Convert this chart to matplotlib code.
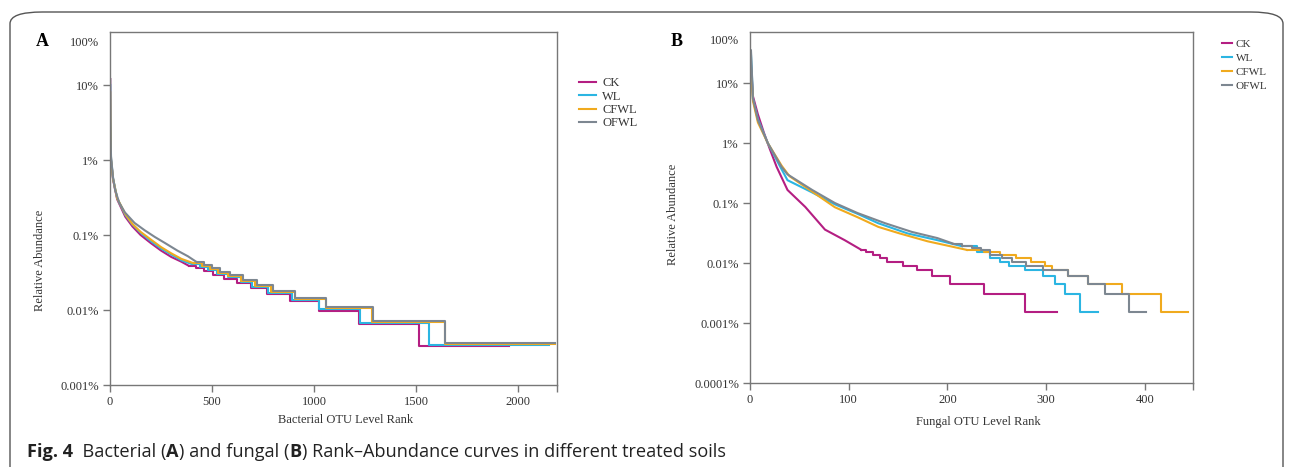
import numpy as np
import matplotlib.pyplot as plt
from matplotlib.patches import FancyBboxPatch

W, H = 1293, 467

groups = ["CK", "WL", "CFWL", "OFWL"]
colors = ["#B41E82", "#2BB5E2", "#F0AA1E", "#7D8791"]

# bacterial rank-abundance (rank, relative abundance in %)
ck_a_rank = [1, 2, 5, 15, 35, 75, 110, 150, 200, 250, 300, 350, 385, 420, 460, 505, 560, 620, 690, 770, 882, 1025, 1221, 1515, 1956]
ck_a_pct = [12, 3.0, 1.0, 0.55, 0.30, 0.175, 0.13, 0.10, 0.078, 0.062, 0.051, 0.044, 0.039, 0.036, 0.0327, 0.0294, 0.0261, 0.0229, 0.0196, 0.0163, 0.0131, 0.0098, 0.0065, 0.0033, 0.0033]
wl_a_rank = [1, 2, 5, 15, 35, 75, 110, 150, 200, 250, 300, 350, 400, 440, 480, 525, 580, 640, 695, 775, 890, 1025, 1225, 1564, 2150]
wl_a_pct = [10, 3.2, 1.05, 0.57, 0.31, 0.185, 0.138, 0.107, 0.083, 0.066, 0.055, 0.046, 0.041, 0.0374, 0.034, 0.0306, 0.0272, 0.0238, 0.0204, 0.017, 0.0136, 0.0102, 0.0068, 0.0034, 0.0034]
cfwl_a_rank = [1, 2, 5, 15, 35, 75, 110, 150, 200, 250, 300, 350, 410, 450, 490, 530, 580, 640, 710, 790, 905, 1059, 1284, 1642, 2180]
cfwl_a_pct = [8, 2.8, 1.0, 0.56, 0.31, 0.19, 0.14, 0.11, 0.087, 0.069, 0.057, 0.048, 0.042, 0.0385, 0.035, 0.0315, 0.028, 0.0245, 0.021, 0.0175, 0.014, 0.0105, 0.007, 0.0035, 0.0035]
ofwl_a_rank = [1, 2, 5, 15, 25, 45, 73, 120, 171, 220, 270, 330, 382, 425, 460, 500, 540, 590, 650, 720, 799, 907, 1059, 1289, 1642, 2180]
ofwl_a_pct = [12, 3.5, 1.1, 0.58, 0.40, 0.27, 0.20, 0.145, 0.115, 0.094, 0.078, 0.062, 0.052, 0.0435, 0.040, 0.036, 0.0325, 0.029, 0.0253, 0.0217, 0.018, 0.0145, 0.0108, 0.0072, 0.0036, 0.0036]
knee_a = [385, 400, 410, 425]

# fungal rank-abundance
ck_b_rank = [1, 3, 8, 14, 20, 27, 38, 56, 76, 96, 113, 118, 125, 132, 139, 155, 169, 184, 203, 237, 279, 311]
ck_b_pct = [20, 6, 3.0, 1.5, 0.8, 0.4, 0.165, 0.086, 0.036, 0.024, 0.0165, 0.015, 0.0135, 0.012, 0.0105, 0.009, 0.0075, 0.006, 0.0045, 0.003, 0.0015, 0.0015]
wl_b_rank = [1, 3, 8, 18, 30, 38, 63, 86, 109, 130, 160, 190, 215, 230, 243, 253, 263, 279, 297, 309, 319, 334, 353]
wl_b_pct = [30, 5.5, 2.5, 1.0, 0.42, 0.24, 0.15, 0.095, 0.066, 0.046, 0.031, 0.024, 0.019, 0.0150, 0.012, 0.0105, 0.009, 0.0075, 0.006, 0.0045, 0.003, 0.0015, 0.0015]
cfwl_b_rank = [1, 3, 8, 18, 32, 40, 63, 86, 109, 130, 152, 180, 200, 220, 237, 253, 270, 285, 299, 306, 322, 343, 377, 417, 444]
cfwl_b_pct = [18, 5.0, 2.2, 1.0, 0.42, 0.28, 0.155, 0.085, 0.058, 0.040, 0.031, 0.023, 0.0195, 0.0165, 0.0150, 0.0135, 0.012, 0.0105, 0.009, 0.0075, 0.006, 0.0045, 0.003, 0.0015, 0.0015]
ofwl_b_rank = [1, 3, 8, 18, 32, 38, 63, 86, 109, 137, 164, 190, 206, 215, 225, 234, 243, 255, 266, 280, 297, 322, 343, 360, 384, 401]
ofwl_b_pct = [35, 5.5, 2.4, 1.0, 0.40, 0.30, 0.165, 0.10, 0.068, 0.046, 0.033, 0.026, 0.021, 0.0195, 0.018, 0.0165, 0.0135, 0.012, 0.0105, 0.009, 0.0075, 0.006, 0.0045, 0.003, 0.0015, 0.0015]
knee_b = [113, 215, 220, 206]

y_ticks = [[0.001, 0.01, 0.1, 1, 10], [0.0001, 0.001, 0.01, 0.1, 1, 10]]
y_labels = [["0.001%", "0.01%", "0.1%", "1%", "10%"], ["0.0001%", "0.001%", "0.01%", "0.1%", "1%", "10%"]]
x_ticks = [[0, 500, 1000, 1500, 2000], [0, 100, 200, 300, 400]]

plt.rcParams['font.family'] = ['Liberation Serif', 'DejaVu Serif']

fig = plt.figure(figsize=(W / 100, H / 100), dpi=100)

# rounded frame of the figure panel
fig.add_artist(FancyBboxPatch((10 / W, -0.2), 1273 / W, 1 - 12 / H + 0.2,
                              boxstyle="round,pad=0,rounding_size=0.025",
                              transform=fig.transFigure, fill=False,
                              edgecolor="#555555", lw=1.0))

axA = fig.add_axes([110 / W, 1 - 385 / H, 447 / W, 353 / H])
axB = fig.add_axes([750 / W, 1 - 383 / H, 443 / W, 351 / H])


def draw(ax, r, p, knee, color, label):
    r = np.array(r)
    p = np.array(p)
    i = int(np.searchsorted(r, knee))
    ln, = ax.plot(r[:i + 1], p[:i + 1], color=color, lw=1.5, label=label)
    ax.plot(r[i:], p[i:], color=color, lw=1.5, drawstyle='steps-post')
    return ln


hA = []
for r, p, k, c, g in zip([ck_a_rank, wl_a_rank, cfwl_a_rank, ofwl_a_rank],
                         [ck_a_pct, wl_a_pct, cfwl_a_pct, ofwl_a_pct],
                         knee_a, colors, groups):
    hA.append(draw(axA, r, p, k, c, g))
hB = []
for r, p, k, c, g in zip([ck_b_rank, wl_b_rank, cfwl_b_rank, ofwl_b_rank],
                         [ck_b_pct, wl_b_pct, cfwl_b_pct, ofwl_b_pct],
                         knee_b, colors, groups):
    hB.append(draw(axB, r, p, k, c, g))

# axis ranges as in the original (top label "100%" sits just under the frame)
lims = [((0, 2190), (0.001, 50.9), 37.5), ((0, 449), (0.0001, 70.8), 54.0)]
xlabels = ["Bacterial OTU Level Rank", "Fungal OTU Level Rank"]
for i, ax in enumerate([axA, axB]):
    (x0, x1), (y0, y1), top = lims[i]
    ax.set_yscale('log')
    ax.set_xlim(x0, x1)
    ax.set_ylim(y0, y1)
    ax.set_yticks(y_ticks[i], y_labels[i])
    ax.set_yticks([top], ["100%"], minor=True)
    ax.set_xticks(x_ticks[i], [str(v) for v in x_ticks[i]])
    ax.set_xticks([x1], [""], minor=True)
    ax.tick_params(axis='both', which='major', length=5, width=1, color="#777777",
                   labelsize=9, labelcolor="#333333", pad=3)
    ax.tick_params(axis='y', which='minor', length=0, labelsize=9, labelcolor="#333333", pad=8)
    ax.tick_params(axis='x', which='minor', length=5, width=1, color="#777777")
    for s in ax.spines.values():
        s.set_color("#777777")
        s.set_linewidth(1.0)
    ax.set_xlabel(xlabels[i], fontsize=9, color="#333333")
    ax.set_ylabel("Relative Abundance", fontsize=9, color="#333333")

axA.xaxis.set_label_coords(0.526, -0.099)
axB.xaxis.set_label_coords(0.515, -0.111)
axA.yaxis.set_label_coords(-0.156, 0.354)
axB.yaxis.set_label_coords(-0.174, 0.479)
for ax in [axA, axB]:
    ax.xaxis.label.set_va('center')
    ax.yaxis.label.set_va('center')

fig.text(42 / W, 1 - 42 / H, "A", fontsize=13, fontweight='bold', ha='center', va='center')
fig.text(677 / W, 1 - 41 / H, "B", fontsize=13, fontweight='bold', ha='center', va='center')

fig.legend(handles=hA, loc='upper left', bbox_to_anchor=(579 / W, 1 - 77 / H),
           frameon=False, fontsize=9, handlelength=1.36, handletextpad=0.5,
           labelspacing=0.12, borderpad=0, borderaxespad=0, labelcolor="#333333")
fig.legend(handles=hB, loc='upper left', bbox_to_anchor=(1222 / W, 1 - 39 / H),
           frameon=False, fontsize=8, handlelength=0.9, handletextpad=0.35,
           labelspacing=0.38, borderpad=0, borderaxespad=0, labelcolor="#333333")

# caption
parts = [("Fig. 4", 'bold'), ("  Bacterial (", 'normal'), ("A", 'bold'),
         (") and fungal (", 'normal'), ("B", 'bold'),
         (") Rank\u2013Abundance curves in different treated soils", 'normal')]
renderer = fig.canvas.get_renderer()
xpos = 27
for s, w in parts:
    t = fig.text(xpos / W, 1 - 452 / H, s, fontsize=13.1, fontweight=w,
                 family=['Open Sans', 'DejaVu Sans'], color="#222222", va='center')
    xpos += t.get_window_extent(renderer).width

fig.savefig("out.png", dpi=100)
